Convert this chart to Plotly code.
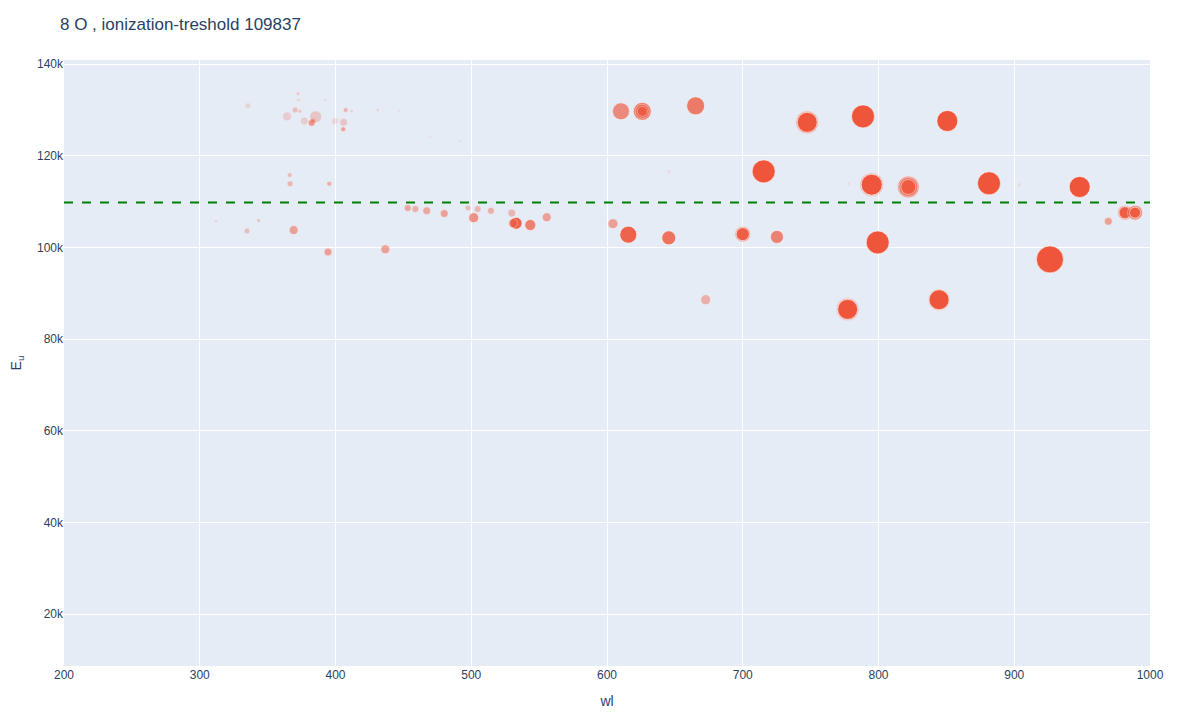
import plotly.graph_objects as go

# line list for O (estimated from the reference plot)
wl = [335.5, 364.3, 372.4, 371.9, 373.3, 370.2, 373.8, 377.0, 382.5, 383.4,
      385.4, 384.2, 391.8, 393.0, 399.6, 406.0, 407.5, 411.9, 405.7, 431.1,
      435.5, 446.8, 469.8, 468.1, 491.7,
      366.3, 366.5, 395.4, 645.7, 778.1, 903.7,
      312.0, 334.8, 343.4, 369.2, 394.5, 436.7, 453.2, 458.8, 467.2, 480.1,
      497.6, 501.8, 504.7, 514.5, 529.8, 533.0, 530.7, 543.5, 555.6,
      604.4, 615.7, 645.5, 700.0, 700.0, 725.2, 610.3, 626.0, 626.0, 626.0,
      665.3, 715.4, 747.5, 747.5, 788.6, 850.7, 795.0, 795.0, 822.0, 822.0,
      822.0, 881.4, 948.2, 926.3, 799.4, 672.7, 777.3, 777.3, 844.6, 844.6,
      969.3, 981.6, 981.6, 989.0, 989.0]

eu = [130900, 128600, 133600, 132200, 132200, 130000, 129700, 127600, 127200, 127600,
      128500, 133600, 132200, 132100, 127600, 127300, 130000, 129700, 125800, 130000,
      129600, 129900, 124100, 124100, 123200,
      115800, 113900, 113900, 116600, 113900, 113700,
      105700, 103600, 105900, 103800, 99000, 99600, 108600, 108400, 108000, 107400,
      108600, 106500, 108400, 108000, 107500, 105300, 105300, 104900, 106600,
      105200, 102800, 102100, 102900, 102900, 102300, 129700, 129700, 129700, 129700,
      130900, 116600, 127300, 127300, 128600, 127600, 113700, 113700, 113200, 113200,
      113200, 114000, 113200, 97400, 101100, 88600, 86500, 86500, 88600, 88600,
      105700, 107600, 107600, 107600, 107600]

# marker diameter (relative line strength)
strength = [6, 9, 4, 3, 3, 6, 4, 8, 7, 6,
            12, 2, 3, 3, 7, 8, 5, 3, 5, 3,
            2, 3, 3, 2, 3,
            5, 6, 5, 4, 4, 4,
            3, 6, 4, 9, 8, 9, 7, 7, 8, 8,
            6, 10, 7, 7, 8, 12, 9, 11, 9,
            10, 17, 14, 16, 13, 13, 17, 18, 14, 10,
            18, 23, 23, 20, 23, 21, 24, 21, 22, 19,
            15, 23, 21, 27, 23, 10, 23, 20, 22, 20,
            8, 15, 12, 15, 11]

alpha = [0.15, 0.2, 0.2, 0.15, 0.15, 0.3, 0.25, 0.2, 0.6, 0.3,
         0.25, 0.1, 0.08, 0.08, 0.15, 0.25, 0.35, 0.25, 0.5, 0.2,
         0.08, 0.12, 0.1, 0.08, 0.1,
         0.3, 0.35, 0.4, 0.1, 0.1, 0.1,
         0.2, 0.3, 0.25, 0.5, 0.5, 0.5, 0.45, 0.4, 0.45, 0.5,
         0.3, 0.6, 0.35, 0.4, 0.35, 0.9, 0.5, 0.7, 0.5,
         0.5, 0.9, 0.8, 0.4, 0.9, 0.7, 0.65, 0.7, 0.6, 0.6,
         0.75, 1.0, 0.4, 1.0, 1.0, 1.0, 0.3, 1.0, 0.5, 0.6,
         0.8, 1.0, 1.0, 1.0, 1.0, 0.4, 0.3, 1.0, 0.3, 1.0,
         0.5, 0.4, 0.9, 0.6, 0.9]

threshold = 109837

fig = go.Figure()
fig.add_trace(go.Scatter(
    x=wl, y=eu, mode="markers",
    marker=dict(size=strength, opacity=alpha, color="#EF553B",
                line=dict(color="white", width=0.6)),
    showlegend=False,
))

fig.add_hline(y=threshold, line=dict(color="green", dash="dash", width=2))

fig.update_layout(
    font=dict(family="Arial, Liberation Sans, sans-serif"),
    title=dict(text="8 O , ionization-treshold 109837", x=0.0433,
               y=0.978, yref="container", yanchor="middle"),
    xaxis=dict(title="wl", range=[200, 1000], dtick=100, automargin=False),
    yaxis=dict(title="E<sub>u</sub>", range=[8700, 140900], automargin=False),
    width=1200, height=720,
    margin=dict(l=56, r=58, t=52, b=62),
)

fig.write_html("out.html")
